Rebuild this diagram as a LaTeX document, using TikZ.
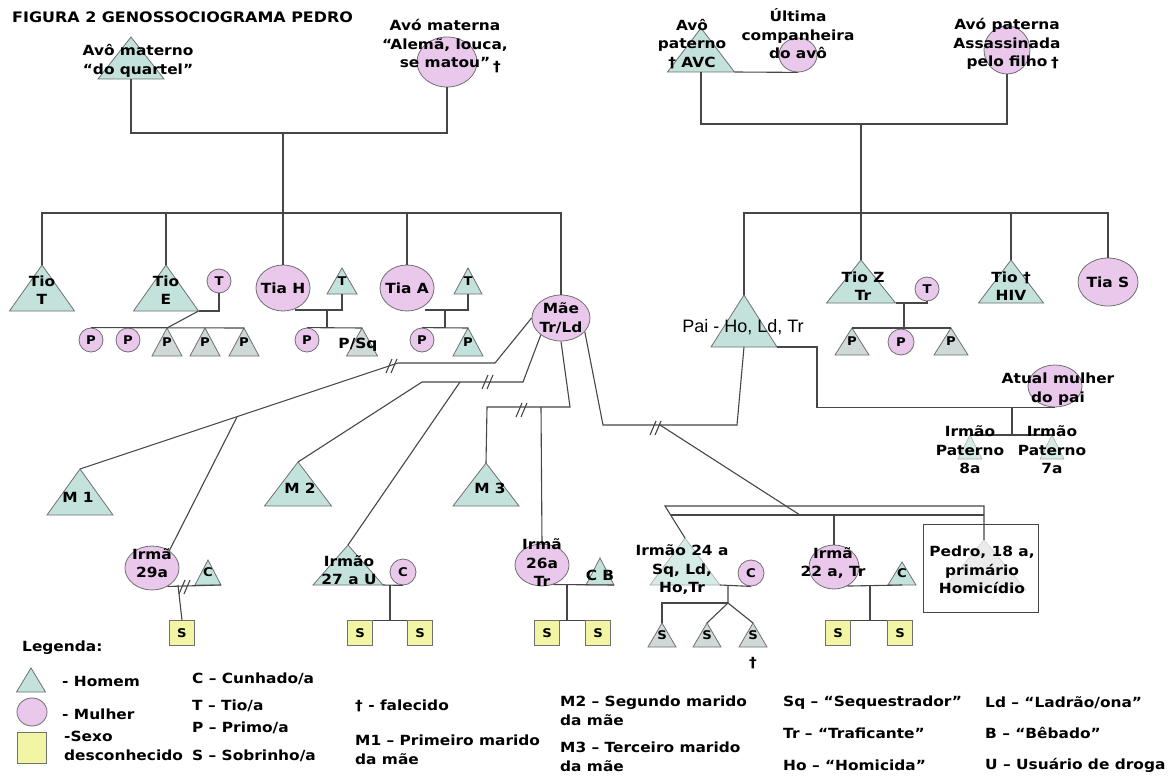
\documentclass[tikz,border=0pt]{standalone}
\usepackage{fontspec}
\usepackage{tikz}
\usetikzlibrary{shapes.geometric}
\newfontfamily\gfont{DejaVu Sans}[FakeStretch=1.1]
\newfontfamily\pfont{Liberation Sans}
\definecolor{linha}{HTML}{464646}
\definecolor{contorno}{HTML}{707070}
\definecolor{azul}{HTML}{C3E2DC}
\definecolor{cinzaaz}{HTML}{CFDAD8}
\definecolor{rosa}{HTML}{E9C8EC}
\definecolor{amarelo}{HTML}{F2F5A4}
\tikzset{
  rel/.style={draw=linha, line width=1.1pt},
  masc/.style={fill=azul, draw=contorno, line width=0.8pt},
  mascg/.style={fill=cinzaaz, draw=contorno, line width=0.8pt},
  mascf/.style={fill=azul!70, draw=contorno!60, line width=0.6pt},
  pedrotri/.style={fill=black!8, draw=black!18, line width=0.6pt},
  tribox/.style={rectangle, inner sep=0pt, outer sep=0pt, font=\gfont\bfseries\fontsize{12}{12}\selectfont},
  fem/.style={ellipse, fill=rosa, draw=contorno, line width=0.8pt, inner sep=0pt, font=\gfont\bfseries\fontsize{12}{12}\selectfont},
  sexodesc/.style={rectangle, fill=amarelo, draw=contorno, line width=0.8pt, minimum size=25, inner sep=0pt, font=\gfont\bfseries\fontsize{12}{12}\selectfont},
  lab/.style={font=\gfont\bfseries\fontsize{14}{18.5}\selectfont, align=center, inner sep=0pt},
  labp/.style={font=\pfont\fontsize{18}{20}\selectfont, inner sep=0pt},
  leg/.style={lab, anchor=west, align=left},
  titulo/.style={lab, anchor=west, font=\gfont\bfseries\fontsize{14.5}{16}\selectfont},
  divorcio/.pic={\draw[rel] (-5,7) -- (1,-7); \draw[rel] (0,7) -- (6,-7);}
}
% triangle (homem): [style]{name}{x}{apex y}{width}{height}{text}
\newcommand{\homem}[7][masc]{%
  \filldraw[#1] (#3,#4) -- ++(#5/2,#6) -- ++(-#5,0) -- cycle;
  \node[tribox, minimum width=#5, minimum height=#6] (#2) at (#3,#4+#6/2) {#7};}

\begin{document}
\begin{tikzpicture}[x=1pt,y=-1pt]
  \useasboundingbox (0,0) rectangle (1175,778);
  \fill[white] (0,0) rectangle (1175,778);

  \node[titulo] (titulo) at (12,17) {FIGURA 2 GENOSSOCIOGRAMA PEDRO};

  % avos maternos
  \homem{AvoM}{131}{37}{66}{42}{}
  \node[fem, minimum width=60, minimum height=50] (AvaM) at (447,62) {};
  \coordinate (casM) at (283,133);
  \coordinate (sibM) at (283,213);
  \draw[rel] (AvoM.south) |- (casM) -| (AvaM.south);
  \draw[rel] (casM) -- (sibM);

  % tios maternos
  \homem{TioT}{42}{265}{65}{46}{}
  \homem{TioE}{166}{265}{65}{46}{}
  \node[fem, minimum size=24] (TE) at (219,281) {T};
  \node[fem, minimum size=24] (PE1) at (91,340) {P};
  \node[fem, minimum size=24] (PE2) at (128,340) {P};
  \homem[mascg]{PE3}{167}{328}{30}{28}{P}
  \homem[mascg]{PE4}{205}{328}{30}{28}{P}
  \homem[mascg]{PE5}{244}{328}{30}{28}{P}
  \node[fem, minimum width=54, minimum height=46] (TiaH) at (283,288) {};
  \homem{TH}{342}{268}{30}{26}{T}
  \node[fem, minimum size=24] (PH1) at (307,340) {P};
  \homem[mascg]{PH2}{362}{328}{31}{28}{}
  \node[fem, minimum width=54, minimum height=46] (TiaA) at (407,288) {};
  \homem{TA}{468}{268}{28}{26}{T}
  \node[fem, minimum size=24] (PA1) at (422,340) {P};
  \homem{PA2}{468}{328}{30}{28}{P}
  \node[fem, minimum width=58, minimum height=46] (Mae) at (561,318) {};

  \draw[rel] (TioT.north) |- (sibM);
  \draw[rel] (TioE.north) |- (sibM);
  \draw[rel] (sibM) -- (TiaH.north);
  \draw[rel] (TiaA.north) |- (sibM);
  \draw[rel] (Mae.north) |- (sibM);
  \draw[rel] (TE.south) |- (TioE.south east);
  \draw[rel] (TioE.south east) -- (PE3.north);
  \draw[rel] (PE1.north) -- (PE5.north);
  \coordinate (casH) at (327,310);
  \draw[rel] (TiaH.-60 |- casH) -| (TH.south);
  \draw[rel] (casH) -- (casH |- PH1.north);
  \draw[rel] (PH1.north) -- (PH2.north);
  \coordinate (casA) at (445,310);
  \draw[rel] (TiaA.-45 |- casA) -| (TA.south);
  \draw[rel] (casA) -- (casA |- PA1.north);
  \draw[rel] (PA1.north) -- (PA2.north);

  % avos paternos
  \homem{AvoP}{701}{28}{67}{44}{}
  \node[fem, minimum width=38, minimum height=34] (UltC) at (798,55) {};
  \node[fem, minimum width=46, minimum height=48] (AvaP) at (1007,50) {};
  \coordinate (casP) at (861,124);
  \coordinate (sibP) at (861,213);
  \draw[rel] (AvoP.south east) -- (UltC.south);
  \draw[rel] (AvoP.south) |- (casP) -| (AvaP.south);
  \draw[rel] (casP) -- (sibP);

  % tios paternos
  \homem{Pai}{744}{295}{66}{52}{}
  \homem{TioZ}{861}{260}{69}{43}{}
  \node[fem, minimum size=24] (TZ) at (927,289) {T};
  \homem[mascg]{PZ1}{852}{328}{34}{27}{P}
  \node[fem, minimum size=26] (PZ2) at (901,342) {P};
  \homem[mascg]{PZ3}{951}{328}{34}{27}{P}
  \homem{TioHIV}{1011}{260}{65}{43}{}
  \node[fem, minimum width=60, minimum height=48] (TiaS) at (1108,282) {};
  \draw[rel] (Pai.north) |- (sibP);
  \draw[rel] (sibP) -- (TioZ.north);
  \draw[rel] (TioHIV.north) |- (sibP);
  \draw[rel] (TiaS.north) |- (sibP);
  \draw[rel] (TioZ.south east) -| (TZ.south);
  \coordinate (casZ) at (904,303);
  \draw[rel] (casZ) -- (casZ |- PZ1.north);
  \draw[rel] (PZ1.north) -- (PZ3.north);

  % segunda uniao do pai
  \node[fem, minimum width=54, minimum height=42] (Atual) at (1055,386) {};
  \homem[mascf]{IP8}{970}{435}{24}{24}{}
  \homem[mascf]{IP7}{1052}{435}{24}{24}{}
  \coordinate (casPai) at (1012,407);
  \draw[rel] (Pai.south east) -- ++(40,0) |- (Atual.south);
  \draw[rel] (casPai) -- (casPai |- IP8.north);
  \draw[rel] (IP8.north) -- (IP7.north);

  % unioes da mae
  \homem{M1}{80}{469}{66}{46}{}
  \homem{M2}{298}{462}{67}{44}{}
  \homem{M3}{486}{463}{66}{43}{}
  \coordinate (m1a) at (495,363);
  \coordinate (m1b) at (398,363);
  \coordinate (f1) at (237,417);
  \draw[rel] (Mae.west) -- (m1a) -- (m1b) -- (M1.north);
  \pic at (391,366) {divorcio};
  \coordinate (m2a) at (523,382);
  \coordinate (m2b) at (422,382);
  \coordinate (f2) at (460,382);
  \draw[rel] (Mae.220) -- (m2a) -- (m2b) -- (M2.north);
  \pic at (487,382) {divorcio};
  \coordinate (m3a) at (570,407);
  \coordinate (m3b) at (487,407);
  \coordinate (f3) at (541,407);
  \draw[rel] (Mae.south) -- (m3a) -- (m3b) -- (M3.north);
  \pic at (521,410) {divorcio};
  \coordinate (p1) at (603,425);
  \coordinate (p2) at (737,425);
  \coordinate (fP) at (660,425);
  \draw[rel] (Mae.-30) -- (p1) -- (p2) -- (Pai.south);
  \pic at (655,428) {divorcio};

  % irmaos de Pedro
  \node[fem, minimum width=54, minimum height=44] (Irma29) at (152,568) {};
  \homem{C29}{208}{560}{26}{25}{C}
  \node[sexodesc] (SQ29) at (182,633) {S};
  \coordinate (cas29) at (178,585);
  \draw[rel] (f1) -- (Irma29.45);
  \draw[rel] (Irma29.-50) -- (C29.south east);
  \draw[rel] (cas29) -- (SQ29.north);
  \pic at (184,587) {divorcio};

  \homem{Irmao27}{348}{545}{70}{40}{}
  \node[fem, minimum size=26] (C27) at (403,572) {C};
  \node[sexodesc] (SQ27a) at (360,633) {S};
  \node[sexodesc] (SQ27b) at (420,633) {S};
  \coordinate (cas27) at (390,585);
  \draw[rel] (f2) -- (Irmao27.north);
  \draw[rel] (Irmao27.south east) -- (C27.south);
  \draw[rel] (cas27) -- (cas27 |- SQ27a.north);
  \draw[rel] (SQ27a.north east) -- (SQ27b.north west);

  \node[fem, minimum width=54, minimum height=42] (Irma26) at (542,565) {};
  \homem{CB}{600}{558}{28}{27}{}
  \node[sexodesc] (SQ26a) at (547,633) {S};
  \node[sexodesc] (SQ26b) at (598,633) {S};
  \coordinate (cas26) at (567,585);
  \draw[rel] (f3) -- (Irma26.north);
  \draw[rel] (Irma26.-60) -- (CB.south east);
  \draw[rel] (cas26) -- (cas26 |- SQ26a.north);
  \draw[rel] (SQ26a.north east) -- (SQ26b.north west);

  \homem[mascf]{Irmao24}{685}{538}{70}{47}{}
  \node[fem, minimum size=26] (C24) at (751,573) {C};
  \homem[mascg]{S24a}{662}{623}{28}{24}{S}
  \homem[mascg]{S24b}{707}{623}{28}{24}{S}
  \homem[mascg]{S24c}{753}{623}{28}{24}{S}
  \node[fem, minimum width=50, minimum height=44] (Irma22) at (834,567) {};
  \homem{C22}{902}{562}{28}{23}{C}
  \node[sexodesc] (SQ22a) at (838,633) {S};
  \node[sexodesc] (SQ22b) at (900,633) {S};
  \homem[pedrotri]{PedroT}{984}{540}{84}{50}{}
  \node[draw=linha, line width=1pt, minimum width=115, minimum height=88, inner sep=0pt] (Pedro) at (980.5,568) {};

  \coordinate (irA) at (665,506);
  \coordinate (irB) at (984,506);
  \coordinate (irC) at (671,515);
  \coordinate (irD) at (984,515);
  \coordinate (irE) at (800,515);
  \coordinate (ir22) at (834,515);
  \draw[rel] (Irmao24.north) -- (irA) -- (irB) -- (PedroT.north);
  \draw[rel] (irC) -- (irD);
  \draw[rel] (fP) -- (irE);
  \draw[rel] (ir22) -- (Irma22.north);
  \coordinate (cas24) at (728,585);
  \coordinate (fil24) at (728,603);
  \draw[rel] (Irmao24.south east) -- (C24.south);
  \draw[rel] (cas24) -- (fil24) -- (S24b.north);
  \draw[rel] (fil24) -- (S24c.north);
  \draw[rel] (fil24) -- (S24a.north |- fil24) -- (S24a.north);
  \coordinate (cas22) at (870,585);
  \draw[rel] (Irma22.-55) -- (C22.south);
  \draw[rel] (cas22) -- (cas22 |- SQ22a.north);
  \draw[rel] (SQ22a.north east) -- (SQ22b.north west);

  % textos
  \node[lab] (lAvoM) at (138,61) {Avô materno\\“do quartel”};
  \node[lab] (lAvaM) at (445,44) {Avó materna\\“Alemã, louca,\\se matou”};
  \node[lab] (mAvaM) at (497,67) {†};
  \node[lab] (lAvoP) at (692,44) {Avô\\paterno\\† AVC};
  \node[lab] (lUltC) at (798,34) {Última\\companheira\\do avô};
  \node[lab] (lAvaP) at (1007,44) {Avó paterna\\Assassinada\\pelo filho};
  \node[lab] (mAvaP) at (1055,63) {†};
  \node[lab] (lTioT) at (42,290) {Tio\\T};
  \node[lab] (lTioE) at (166,290) {Tio\\E};
  \node[lab] (lTiaH) at (283,288) {Tia H};
  \node[lab] (lTiaA) at (407,288) {Tia A};
  \node[lab] (lPH2) at (358,345) {P/Sq};
  \node[lab] (lMae) at (561,318) {Mãe\\Tr/Ld};
  \node[labp] (lPai) at (743,327) {Pai - Ho, Ld, Tr};
  \node[lab] (lTioZ) at (863,286) {Tio Z\\Tr};
  \node[lab] (lTioHIV) at (1011,286) {Tio †\\HIV};
  \node[lab] (lTiaS) at (1108,282) {Tia S};
  \node[lab] (lAtual) at (1058,389) {Atual mulher\\do pai};
  \node[lab] (lIP8) at (970,450) {Irmão\\Paterno\\8a};
  \node[lab] (lIP7) at (1052,450) {Irmão\\Paterno\\7a};
  \node[lab] (lM1) at (78,497) {M 1};
  \node[lab] (lM2) at (300,488) {M 2};
  \node[lab] (lM3) at (490,488) {M 3};
  \node[lab] (lIrma29) at (152,563) {Irmã\\29a};
  \node[lab] (lIrmao27) at (349,570) {Irmão\\27 a U};
  \node[lab] (lIrma26) at (542,563) {Irmã\\26a\\Tr};
  \node[lab] (lCB) at (600,575) {C B};
  \node[lab] (lIrmao24) at (682,570) {Irmão 24 a\\Sq, Ld,\\Ho,Tr};
  \node[lab] (lIrma22) at (833,563) {Irmã\\22 a, Tr};
  \node[lab] (lPedro) at (982,570) {Pedro, 18 a,\\primário\\Homicídio};
  \node[lab] (mS24) at (753,663) {†};

  % legenda
  \node[leg] (legenda) at (22,648) {Legenda:};
  \homem{LegM}{31}{668}{29}{24}{}
  \node[fem, minimum width=30, minimum height=28] (LegF) at (32,712) {};
  \node[sexodesc, minimum width=29, minimum height=31] (LegU) at (31.5,747.5) {};
  \node[leg] (lHomem) at (62,681) {- Homem};
  \node[leg] (lMulher) at (62,714) {- Mulher};
  \node[leg] (lSexo) at (64,746) {-Sexo\\desconhecido};
  \node[leg] (lC) at (192,679) {C – Cunhado/a};
  \node[leg] (lT) at (192,706) {T – Tio/a};
  \node[leg] (lP) at (192,728) {P – Primo/a};
  \node[leg] (lS) at (192,756) {S – Sobrinho/a};
  \node[leg] (lFal) at (355,706) {† - falecido};
  \node[leg] (lM1leg) at (355,750) {M1 – Primeiro marido\\da mãe};
  \node[leg] (lM2leg) at (560,711) {M2 – Segundo marido\\da mãe};
  \node[leg] (lM3leg) at (560,757) {M3 – Terceiro marido\\da mãe};
  \node[leg] (lSq) at (783,703) {Sq – “Sequestrador”};
  \node[leg] (lTr) at (783,733) {Tr – “Traficante”};
  \node[leg] (lHo) at (783,765) {Ho – “Homicida”};
  \node[leg] (lLd) at (985,703) {Ld – “Ladrão/ona”};
  \node[leg] (lB) at (985,733) {B – “Bêbado”};
  \node[leg] (lU) at (985,765) {U – Usuário de droga};
\end{tikzpicture}
\end{document}
